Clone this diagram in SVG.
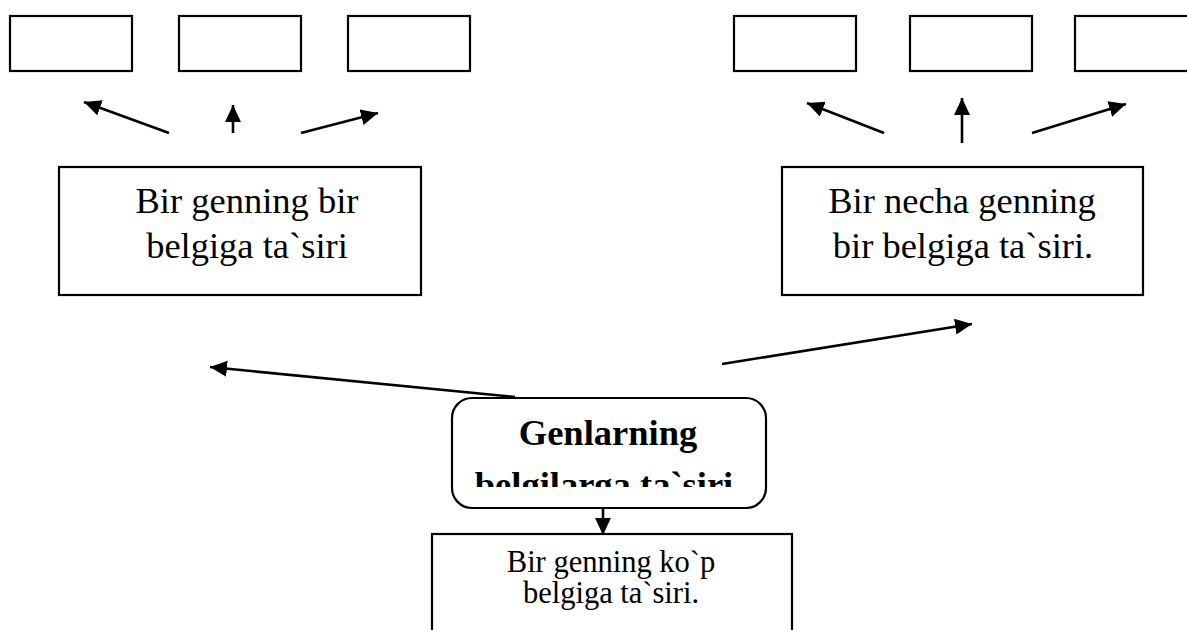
<svg xmlns="http://www.w3.org/2000/svg" width="1187" height="630" viewBox="0 0 1187 630">
<style>
.box{fill:#fff;stroke:#000;stroke-width:2.2}
.ln{fill:none;stroke:#000;stroke-width:2.6}
.t{font-family:'Liberation Serif','Times New Roman','DejaVu Serif',serif;fill:#000;text-anchor:middle}
.big{font-size:36.5px}
.sm{font-size:30.5px}
.bold{font-size:36.5px;font-weight:bold}
</style>
<defs>
<marker id="ah" markerUnits="userSpaceOnUse" markerWidth="20" markerHeight="18" refX="17" refY="8" orient="auto">
<path d="M0,0 L17,8 L0,16 z" fill="#000"/>
</marker>
<clipPath id="clipRound"><rect x="452" y="398" width="314" height="89"/></clipPath>
</defs>
<rect width="1187" height="630" fill="#fff"/>
<g id="top-left-1"><rect class="box" x="10" y="16" width="122" height="55"/></g>
<g id="top-left-2"><rect class="box" x="179" y="16" width="122" height="55"/></g>
<g id="top-left-3"><rect class="box" x="348" y="16" width="122" height="55"/></g>
<g id="top-right-1"><rect class="box" x="734" y="16" width="122" height="55"/></g>
<g id="top-right-2"><rect class="box" x="910" y="16" width="122" height="55"/></g>
<g id="top-right-3"><rect class="box" x="1075" y="16" width="122" height="55"/></g>
<g id="node-left"><rect class="box" x="59" y="167" width="362" height="128"/>
<text class="t big" x="247" y="213" font-family="Liberation Serif, serif">Bir genning bir</text>
<text class="t big" x="247" y="258" font-family="Liberation Serif, serif">belgiga ta`siri</text></g>
<g id="node-right"><rect class="box" x="782" y="167" width="361" height="128"/>
<text class="t big" x="962" y="213" font-family="Liberation Serif, serif">Bir necha genning</text>
<text class="t big" x="963" y="258" font-family="Liberation Serif, serif">bir belgiga ta`siri.</text></g>
<g id="node-center"><rect class="box" x="452" y="398" width="314" height="110" rx="20" ry="20"/>
<g clip-path="url(#clipRound)">
<text class="t bold" x="608" y="445" font-family="Liberation Serif, serif">Genlarning</text>
<text class="t bold" x="604" y="497" font-family="Liberation Serif, serif">belgilarga ta`siri</text></g></g>
<g id="node-bottom"><rect class="box" x="432" y="534" width="360" height="110"/>
<text class="t sm" x="611" y="572" font-family="Liberation Serif, serif">Bir genning ko`p</text>
<text class="t sm" x="611" y="603" font-family="Liberation Serif, serif">belgiga ta`siri.</text></g>
<g id="connectors">
<line class="ln" x1="169" y1="133" x2="84" y2="102" marker-end="url(#ah)"/>
<line class="ln" x1="233" y1="133" x2="233" y2="105" marker-end="url(#ah)"/>
<line class="ln" x1="301" y1="133" x2="378" y2="113" marker-end="url(#ah)"/>
<line class="ln" x1="884" y1="133" x2="807" y2="103" marker-end="url(#ah)"/>
<line class="ln" x1="962" y1="143" x2="962" y2="98" marker-end="url(#ah)"/>
<line class="ln" x1="1032" y1="133" x2="1126" y2="104" marker-end="url(#ah)"/>
<line class="ln" x1="515" y1="397" x2="210" y2="367" marker-end="url(#ah)"/>
<line class="ln" x1="722" y1="364" x2="972" y2="324" marker-end="url(#ah)"/>
<line class="ln" x1="603" y1="508" x2="603" y2="535" marker-end="url(#ah)"/>
</g>
</svg>
